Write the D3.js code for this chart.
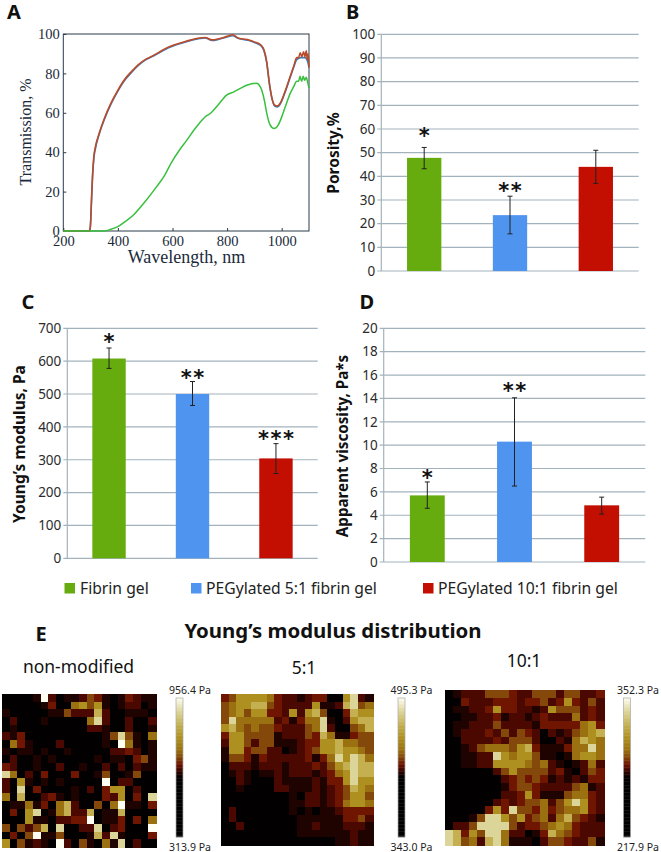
<!DOCTYPE html>
<html><head><meta charset="utf-8">
<script src="https://cdn.jsdelivr.net/npm/d3@7"></script>
<style>html,body{margin:0;padding:0;background:#fff}svg{display:block}</style>
</head><body><svg id="c" width="661" height="852"></svg>
<script>
// ---- Panel A: transmission spectra [wavelength, %]
const transmissionRed = [[200,0],[295,0],[299,2],[303,15],[307,28],[312,38],[318,43],[330,49],[350,57],[375,65],[400,71.5],[425,77],[450,81],[475,84.5],[500,87],[525,88.7],[550,90.7],[575,92.7],[600,94.2],[650,96.3],[700,98],[720,98.2],[745,97],[770,97.6],[800,98.8],[820,99.6],[840,98],[860,97.5],[880,97],[900,96],[925,94.3],[935,92],[945,86],[955,75],[965,67],[975,63.8],[985,63.5],[995,65],[1010,70],[1030,78],[1045,84],[1055,88],[1062,88],[1068,90.5],[1074,88.5],[1080,91],[1085,88.5],[1090,91.5],[1094,87],[1097,90],[1100,83]];
const transmissionBlue = [[200,0],[295,0],[299,2],[303,14],[307,27],[312,37],[318,42],[330,48.5],[350,56.5],[375,64.5],[400,71],[425,76.5],[450,80.5],[475,84],[500,86.7],[525,88.5],[550,90.3],[575,92.3],[600,93.8],[650,96],[700,97.7],[720,98],[745,96.7],[770,97.3],[800,98.5],[820,99.1],[840,97.8],[860,97.2],[880,96.7],[900,95.7],[925,94],[935,91.5],[945,85.5],[955,74.5],[965,66.8],[975,63.3],[985,63],[995,64.5],[1010,69.5],[1030,77.5],[1045,83.5],[1055,87],[1070,88],[1085,88],[1095,86],[1100,83]];
const transmissionGreen = [[200,0],[350,0],[370,0.7],[400,2.2],[425,4.6],[456,8],[500,15],[542,22.5],[570,28],[597,35],[625,41],[652,46],[680,51.5],[700,55],[720,58],[737,59.5],[770,64.5],[798,69],[823,70.5],[850,72.5],[872,74],[908,75],[918,74],[927,71.5],[937,66],[945,60],[957,54],[972,52],[988,54],[1003,59],[1018,65],[1030,69.5],[1043,73],[1055,76],[1062,76],[1067,78.5],[1073,76],[1079,78.5],[1084,76.5],[1090,78],[1095,75.5],[1100,72.5]];
const xTicksA = [200,400,600,800,1000];
const yTicksA = [0,20,40,60,80,100];

// ---- Bars
const groups = ["Fibrin gel","PEGylated 5:1 fibrin gel","PEGylated 10:1 fibrin gel"];
const groupColors = ["#66ac0e","#4f94ee","#c20f02"];
const porosity = [47.8,23.6,44];
const porosityLow = [43.2,15.7,37];
const porosityHigh = [52.2,31.6,51];
const porosityStars = ["*","**",""];
const modulus = [608,500,304];
const modulusLow = [578,465,258];
const modulusHigh = [640,538,349];
const modulusStars = ["*","**","***"];
const viscosity = [5.7,10.3,4.85];
const viscosityLow = [4.6,6.5,4.1];
const viscosityHigh = [6.85,14.05,5.55];
const viscosityStars = ["*","**",""];

// ---- Panel E: modulus maps, colour level 0 (darkest) to 9 (lightest)
const mapNonModified = [
[0,0,0,0,1,9,2,0,1,1,2,4,3,1,0,1,3,2,1,1],
[0,0,0,0,0,1,3,0,0,5,6,4,6,1,0,1,2,2,0,1],
[1,0,0,0,0,0,1,1,4,2,2,2,7,2,0,0,1,1,1,0],
[0,2,0,0,0,1,0,0,0,0,0,5,8,2,0,0,2,0,0,2],
[0,1,0,0,0,0,0,0,0,0,0,2,2,1,0,0,2,0,0,1],
[2,1,3,0,0,0,0,0,0,0,0,0,0,1,4,8,4,1,0,5],
[0,5,3,1,0,0,0,2,0,0,0,0,0,1,0,9,5,1,0,1],
[1,0,1,1,0,1,0,0,1,0,0,0,0,0,2,2,3,2,0,1],
[0,2,0,0,1,0,1,0,0,0,0,0,1,0,1,1,0,3,4,1],
[3,2,0,0,1,0,0,2,0,0,1,0,0,2,0,2,0,2,1,1],
[8,5,0,2,0,3,0,0,0,3,0,0,1,4,0,0,1,4,0,0],
[2,0,6,1,0,1,0,1,0,0,0,0,0,9,0,2,2,0,0,0],
[2,0,8,0,3,0,0,0,0,1,0,2,0,3,6,6,0,2,0,0],
[5,0,7,0,0,2,3,1,0,1,0,0,0,3,2,6,0,3,0,8],
[0,1,1,5,1,3,0,5,7,2,0,0,4,0,5,9,1,1,0,3],
[0,3,0,6,8,0,1,5,7,2,2,7,0,1,1,7,0,0,0,0],
[0,0,0,6,1,1,0,2,2,3,3,9,0,1,1,3,0,3,0,5],
[4,0,4,2,4,7,0,8,0,0,2,2,8,0,2,3,0,0,0,9],
[0,3,0,4,9,1,1,4,0,0,0,1,7,2,8,1,0,0,0,3],
[6,0,4,1,2,1,0,9,2,0,4,1,0,5,1,8,0,2,0,0]];
const map5to1 = [
[3,4,6,6,6,6,5,3,2,2,1,2,3,3,0,0,6,8,2,1],
[4,5,6,6,7,7,4,3,2,2,2,2,6,1,1,2,7,8,4,5],
[4,5,6,4,6,6,3,3,2,6,2,6,7,4,0,0,3,7,6,6],
[4,8,5,5,5,5,5,2,3,1,3,5,5,8,1,0,2,6,7,7],
[6,7,5,4,5,4,4,3,2,2,2,4,5,8,2,0,0,4,5,7],
[3,6,6,4,4,4,4,1,2,2,2,4,3,7,5,1,1,3,4,4],
[2,6,6,4,2,4,4,1,1,1,2,3,3,6,6,7,5,5,4,4],
[1,6,6,3,4,4,2,2,0,1,2,3,4,6,6,7,6,6,5,4],
[1,4,4,3,1,3,2,2,2,2,2,3,1,3,5,8,6,8,7,5],
[0,2,2,2,1,2,2,2,1,2,2,2,3,2,4,6,7,8,7,7],
[0,1,2,1,0,1,1,2,1,2,2,2,1,2,3,5,6,8,7,7],
[0,0,2,1,0,0,0,2,1,1,1,1,2,1,3,3,6,8,6,6],
[0,0,1,0,0,0,0,2,2,1,1,1,2,1,2,3,4,7,6,5],
[0,0,0,0,0,0,0,0,0,1,0,2,2,1,2,3,4,6,6,4],
[0,0,0,0,0,0,0,0,0,1,1,2,2,1,2,3,5,6,6,5],
[0,2,0,0,0,0,0,0,0,1,0,1,0,1,1,2,3,3,3,3],
[0,2,0,0,0,0,0,0,0,0,1,1,1,1,1,1,3,3,4,2],
[0,0,2,0,0,0,0,0,0,0,1,1,2,1,1,1,2,2,2,1],
[0,0,0,0,0,0,0,0,0,0,1,1,1,1,1,1,1,2,1,1],
[0,0,0,0,0,0,0,0,0,0,0,0,0,0,0,1,1,2,1,1]];
const map10to1 = [
[0,1,2,2,2,4,4,4,3,2,2,4,4,4,2,4,4,2,2,3],
[0,0,3,2,2,2,3,3,3,2,3,3,4,2,3,6,3,2,4,2],
[0,1,1,2,2,3,6,3,3,2,2,1,2,6,4,4,4,2,3,2],
[0,0,1,1,2,2,3,1,2,2,1,2,3,2,2,2,5,2,3,2],
[0,1,1,2,2,2,4,2,2,2,2,1,3,3,3,3,3,5,6,3],
[0,1,2,2,2,3,2,4,2,4,3,2,0,2,1,2,4,5,6,7],
[0,0,2,2,2,2,3,2,4,4,4,2,0,0,2,1,5,7,6,5],
[0,0,1,2,4,5,5,5,4,6,7,3,1,1,1,3,5,5,8,5],
[0,0,1,1,2,2,8,6,5,6,6,4,1,1,0,1,5,6,6,5],
[0,0,1,1,2,2,6,6,6,6,5,4,5,2,1,0,1,2,5,2],
[0,0,0,0,0,0,2,4,6,4,4,4,4,2,3,1,0,2,4,3],
[0,0,0,0,0,0,0,2,3,4,3,4,3,1,2,1,2,1,3,3],
[0,0,0,0,0,0,0,1,3,4,4,3,2,2,2,2,4,5,1,2],
[0,0,0,0,0,0,0,2,2,3,6,3,1,1,1,4,5,5,3,2],
[0,0,0,0,0,0,2,3,2,3,4,4,5,2,4,6,8,6,3,2],
[0,0,0,0,0,3,6,3,8,4,4,3,5,3,4,5,5,6,3,2],
[0,0,0,1,4,8,8,6,4,6,3,4,5,2,5,7,4,3,2,1],
[0,2,2,4,8,8,8,8,4,2,3,3,4,5,6,5,3,2,2,2],
[8,7,3,6,4,8,8,5,2,2,0,1,3,7,5,4,3,2,2,2],
[8,7,4,5,2,7,8,5,1,1,1,0,2,4,4,3,2,2,4,1]];
const colorLevels = [0,1,2,3,4,5,6,7,8,9];
const colorStops = ["#020000","#1e0300","#4a0800","#701500","#84480a","#9a7010","#ad9020","#c4b050","#dcd59a","#fffff4"];
// colour bar: position along the bar (0 bottom, 1 top) against colour level
const barPositions = [0,.42,.52,.62,.8,.95,1];
const barLevels = [0,0,3,5,7,8.5,9];
const mapLabelsTop = ["956.4 Pa","495.3 Pa","352.3 Pa"];
const mapLabelsBottom = ["313.9 Pa","343.0 Pa","217.9 Pa"];
const mapTitles = ["non-modified","5:1","10:1"];

const svg = d3.select("#c");
const sans = "'Noto Sans',sans-serif";
const gridCol = "#a3b3bd", txtCol = "#2b2b2b";

function letter(t,x,y,size){
  svg.append("text").attr("x",x).attr("y",y).text(t)
    .attr("font-family",sans).attr("font-weight",700).attr("font-size",size||20).attr("fill","#111");
}

// Panel A
(function(){
  const m={l:63.3,r:309,t:34,b:231};
  const x=d3.scaleLinear().domain([200,1100]).range([m.l,m.r]);
  const y=d3.scaleLinear().domain([0,100]).range([m.b,m.t]);
  const g=svg.append("g");
  g.append("rect").attr("x",m.l).attr("y",m.t).attr("width",m.r-m.l).attr("height",m.b-m.t)
    .attr("fill","none").attr("stroke","#2a3a4a").attr("stroke-width",1);
  const line=d3.line().x(d=>x(d[0])).y(d=>y(d[1])).curve(d3.curveMonotoneX);
  const axX=g.append("g").attr("transform",`translate(0,${m.b})`)
    .call(d3.axisBottom(x).tickValues(xTicksA).tickFormat(d3.format("d")).tickSize(-3).tickPadding(5).tickSizeOuter(0));
  const axY=g.append("g").attr("transform",`translate(${m.l},0)`)
    .call(d3.axisLeft(y).tickValues(yTicksA).tickFormat(d3.format("d")).tickSize(-3).tickPadding(3.5).tickSizeOuter(0));
  [axX,axY].forEach(a=>{a.select(".domain").remove();
    a.selectAll("text").attr("font-family","'Liberation Serif',serif").attr("font-size",14.5).attr("fill","#1a2a3a");
    a.selectAll("line").attr("stroke","#2a3a4a");});
  g.append("path").attr("d",line(transmissionBlue)).attr("fill","none").attr("stroke","#3d7fb8").attr("stroke-width",1.6);
  g.append("path").attr("d",line(transmissionRed)).attr("fill","none").attr("stroke","#bc4a2a").attr("stroke-width",1.6);
  g.append("path").attr("d",line(transmissionGreen)).attr("fill","none").attr("stroke","#38c03e").attr("stroke-width",1.5);
  g.append("text").attr("x",186.5).attr("y",263).attr("text-anchor","middle").text("Wavelength, nm")
    .attr("font-family","'Liberation Serif',serif").attr("font-size",18).attr("fill","#1a2a3a");
  g.append("text").attr("transform","translate(31,132) rotate(-90)").attr("text-anchor","middle").text("Transmission, %")
    .attr("font-family","'Liberation Serif',serif").attr("font-size",16).attr("fill","#1a2a3a");
  letter("A",7,19);
})();

function barPanel(o){
  const x=d3.scaleBand().domain(groups).range([o.l,o.r]).paddingInner(.6).paddingOuter(.3);
  const y=d3.scaleLinear().domain([0,o.max]).range([o.b,o.t]);
  const g=svg.append("g");
  g.selectAll(".grid").data(o.ticks).join("line")
    .attr("x1",o.l-4).attr("x2",o.r).attr("y1",d=>y(d)).attr("y2",d=>y(d))
    .attr("stroke",gridCol).attr("stroke-width",1.2);
  g.append("line").attr("x1",o.l).attr("x2",o.l).attr("y1",o.t).attr("y2",o.b).attr("stroke",gridCol).attr("stroke-width",1.2);
  const ax=g.append("g").attr("transform",`translate(${o.l},0)`)
    .call(d3.axisLeft(y).tickValues(o.ticks).tickSize(0).tickPadding(6));
  ax.select(".domain").remove();
  ax.selectAll("text").attr("font-family",sans).attr("font-size",13.5).attr("fill",txtCol);
  g.selectAll(".bar").data(groups).join("rect")
    .attr("x",d=>x(d)).attr("width",x.bandwidth())
    .attr("y",(d,i)=>y(o.vals[i])).attr("height",(d,i)=>y(0)-y(o.vals[i]))
    .attr("fill",(d,i)=>groupColors[i]);
  groups.forEach((d,i)=>{
    const cx=x(d)+x.bandwidth()/2;
    g.append("line").attr("x1",cx).attr("x2",cx).attr("y1",y(o.lo[i])).attr("y2",y(o.hi[i])).attr("stroke","#222").attr("stroke-width",1);
    [o.lo[i],o.hi[i]].forEach(v=>g.append("line").attr("x1",cx-2.5).attr("x2",cx+2.5).attr("y1",y(v)).attr("y2",y(v)).attr("stroke","#222").attr("stroke-width",1));
    if(o.stars[i]) g.append("text").attr("x",cx+.7).attr("y",y(o.hi[i])+o.starDy[i]).attr("text-anchor","middle")
      .attr("font-family","'DejaVu Sans',sans-serif").attr("font-weight",700).attr("font-size",21).attr("letter-spacing",1.5).attr("fill","#111").text(o.stars[i]);
  });
  g.append("text").attr("transform",`translate(${o.titleX},${o.titleY}) rotate(-90)`).attr("text-anchor","middle").text(o.title)
    .attr("font-family",sans).attr("font-weight",700).attr("font-size",o.titleSize).attr("fill","#111");
}
barPanel({l:381.3,r:638.7,t:34.3,b:271,max:100,ticks:d3.range(0,101,10),vals:porosity,lo:porosityLow,hi:porosityHigh,stars:porosityStars,starDy:[-4,2,0],title:"Porosity,%",titleX:339,titleY:153,titleSize:15.5});
letter("B",346,18.5);
barPanel({l:67.3,r:317.7,t:328.3,b:558.3,max:700,ticks:d3.range(0,701,100),vals:modulus,lo:modulusLow,hi:modulusHigh,stars:modulusStars,starDy:[1,3.5,2],title:"Young\u2019s modulus, Pa",titleX:25,titleY:444,titleSize:15.5});
letter("C",21.5,309);
barPanel({l:383.7,r:645.3,t:328.3,b:562,max:20,ticks:d3.range(0,21,2),vals:viscosity,lo:viscosityLow,hi:viscosityHigh,stars:viscosityStars,starDy:[3,0,0],title:"Apparent viscosity, Pa*s",titleX:348,titleY:446,titleSize:15.2});
letter("D",359.5,309);

// Legend
const legendSq=[64.5,191,423], legendTx=[80,206,438];
groups.forEach((d,i)=>{
  svg.append("rect").attr("x",legendSq[i]).attr("y",583).attr("width",10.5).attr("height",10.5).attr("fill",groupColors[i]);
  svg.append("text").attr("x",legendTx[i]).attr("y",593.5).text(d).attr("font-family",sans).attr("font-size",15.7).attr("fill","#222");
});

// Panel E
letter("E",35.5,640.5);
svg.append("text").attr("x",333).attr("y",638).attr("text-anchor","middle").text("Young\u2019s modulus distribution")
  .attr("font-family",sans).attr("font-weight",700).attr("font-size",20.4).attr("fill","#111");
const color=d3.scaleLinear().domain(colorLevels).range(colorStops);
const barLevel=d3.scaleLinear().domain(barPositions).range(barLevels);
function heat(o){
  const n=o.data.length;
  const xb=d3.scaleBand().domain(d3.range(n)).range([o.x0,o.x1]);
  const yb=d3.scaleBand().domain(d3.range(n)).range([o.y0,o.y1]);
  const g=svg.append("g");
  o.data.forEach((row,r)=>g.selectAll(null).data(row).join("rect")
    .attr("x",(d,c)=>xb(c)).attr("y",yb(r)).attr("width",xb.bandwidth()+.6).attr("height",yb.bandwidth()+.6)
    .attr("shape-rendering","crispEdges").attr("fill",d=>color(d)));
  const cy=d3.scaleLinear().domain([0,1]).range([837,698]);
  const steps=d3.range(0,1.001,.01);
  g.selectAll(null).data(steps).join("rect").attr("x",o.bx).attr("width",7)
    .attr("y",d=>cy(d)-1.6).attr("height",1.8).attr("fill",d=>color(barLevel(d)));
  g.append("rect").attr("x",o.bx).attr("y",698).attr("width",7).attr("height",139).attr("fill","none").attr("stroke","#aaa").attr("stroke-width",.7);
  const lab=(t,y)=>g.append("text").attr("x",o.bx+3.5+o.ldx).attr("y",y).attr("text-anchor","middle").text(t).attr("font-family",sans).attr("font-size",10.5).attr("fill","#222");
  lab(o.top,694); lab(o.bot,850.5);
  g.append("text").attr("x",o.tx).attr("y",o.ty).attr("text-anchor","middle").text(o.title).attr("font-family",sans).attr("font-size",17.5).attr("fill","#111");
}
heat({data:mapNonModified,x0:2,x1:156,y0:694,y1:847,bx:176,ldx:10.5,top:mapLabelsTop[0],bot:mapLabelsBottom[0],title:mapTitles[0],tx:78.5,ty:673});
heat({data:map5to1,x0:221,x1:373,y0:694,y1:845,bx:398,ldx:10,top:mapLabelsTop[1],bot:mapLabelsBottom[1],title:mapTitles[1],tx:304,ty:674});
heat({data:map10to1,x0:445,x1:604,y0:690,y1:845,bx:623.5,ldx:11,top:mapLabelsTop[2],bot:mapLabelsBottom[2],title:mapTitles[2],tx:524,ty:667});
</script></body></html>
